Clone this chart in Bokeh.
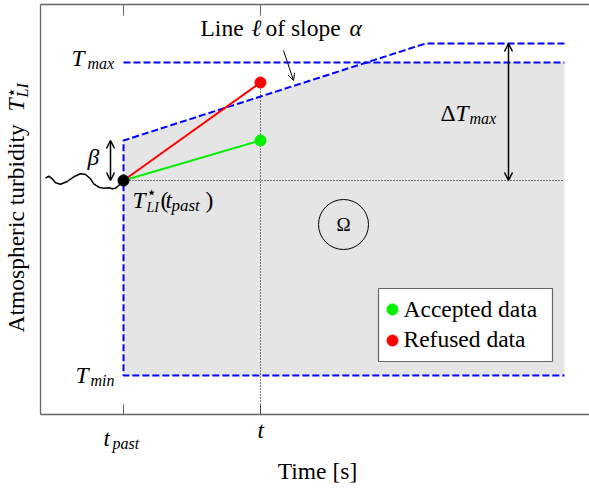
import math
from bokeh.plotting import figure
from bokeh.models import Range1d, Label, Arrow, OpenHead
from bokeh.embed import file_html
from bokeh.resources import INLINE

# ---------------- diagram values (arbitrary units) ----------------
tick_pos = [83, 220]            # t_past, t
t_past = 83
t_now = 220
T_past = 234                    # T*_LI(t_past)
T_accepted = 274
T_refused = 332
beta = 40
alpha = 0.321                   # slope of line l
dT_max = 137
T_max = 352
T_min = 39
t_right = 524
t_axis_end = 549
T_axis_top = 410

wave_x = [5, 8.3, 11.7, 15, 20, 26.7, 33.3, 40, 45, 50, 53.3, 58.3, 63.3, 68.3, 71.7, 75, 78.3, 81.7, 83]
wave_y = [236.3, 238.3, 235.7, 231.7, 230.3, 233, 237.7, 240.7, 240, 235.7, 230.7, 227.3, 226.3, 226.7, 225.7, 226.3, 229, 233, 234]

# derived geometry
T_start = T_past + beta
T_plateau = T_past + dT_max
x_cross = t_past + (T_max - T_start) / alpha
x_sat = t_past + (T_plateau - T_start) / alpha

FONT = "Liberation Serif"
FS = 23.5
SUB = 16
GRAY_AX = "#666666"
GREEN = "#00f000"
RED = "#ff0000"
BLUE = "#0000ff"

p = figure(width=589, height=489, x_range=Range1d(-40, 549), y_range=Range1d(-75, 414),
           min_border=0, x_axis_type=None, y_axis_type=None,
           output_backend="svg", toolbar_location=None)
p.outline_line_color = None
p.xgrid.visible = False
p.ygrid.visible = False
p.background_fill_color = "white"
p.border_fill_color = "white"

# admissible region
p.patch(x=[t_past, x_cross, t_right, t_right, t_past],
        y=[T_start, T_max, T_max, T_min, T_min],
        fill_color="#e5e5e5", line_color=None)

# axes frame (left, bottom, top) and inward ticks
p.segment(x0=[0, 0, 0], y0=[0, 0, T_axis_top], x1=[0, t_axis_end, t_axis_end], y1=[T_axis_top, 0, T_axis_top],
          line_color=GRAY_AX, line_width=1.3)
p.segment(x0=tick_pos, y0=[0, 0], x1=tick_pos, y1=[10, 10], line_color=GRAY_AX, line_width=1)
p.segment(x0=tick_pos, y0=[T_axis_top] * 2, x1=tick_pos, y1=[T_axis_top - 11] * 2, line_color=GRAY_AX, line_width=1)

# dotted guides
p.line(x=[t_past, t_right], y=[T_past, T_past], line_color="black", line_dash="1 2", line_width=1)
p.line(x=[t_now, t_now], y=[T_refused, 0], line_color="black", line_dash="1 2", line_width=1)

# blue dashed bounds
p.line(x=[t_past, t_right], y=[T_max, T_max], line_color=BLUE, line_dash="7 3", line_width=2)
p.line(x=[t_right, x_sat, t_past, t_past, t_right],
       y=[T_plateau, T_plateau, T_start, T_min, T_min],
       line_color=BLUE, line_dash="7 3", line_width=2)

# past history
p.line(x=wave_x, y=wave_y, line_color="black", line_width=1.5, line_join="round")

# candidate data
p.line(x=[t_past, t_now], y=[T_past, T_refused], line_color=RED, line_width=2)
p.line(x=[t_past, t_now], y=[T_past, T_accepted], line_color=GREEN, line_width=2)
p.scatter(x=[t_now], y=[T_refused], size=11, color=RED)
p.scatter(x=[t_now], y=[T_accepted], size=11, color=GREEN)
p.scatter(x=[t_past], y=[T_past], size=11, color="black")

# Omega circle
p.circle(x=[303], y=[190], radius=25, fill_color=None, line_color="black", line_width=1)

# arrows
def dbl_arrow(x0, y0, x1, y1):
    p.add_layout(Arrow(start=OpenHead(size=8, line_width=1.5), end=OpenHead(size=8, line_width=1.5),
                       x_start=x0, y_start=y0, x_end=x1, y_end=y1, line_width=1.5))

dbl_arrow(70, T_start, 70, T_past)
dbl_arrow(468, T_plateau, 468, T_past)
p.add_layout(Arrow(end=OpenHead(size=7, line_width=1), x_start=243, y_start=364, x_end=253, y_end=334,
                   line_width=1))

# legend box
p.quad(left=[338], right=[512], bottom=[53], top=[126], fill_color="white", line_color=GRAY_AX, line_width=1.2)
p.scatter(x=[352], y=[105], size=11, color=GREEN)
p.scatter(x=[352], y=[74], size=11, color=RED)


def lab(x, y, text, size=FS, style="normal", align="left", rot=False, font=FONT, mid=False):
    # (x, y) is the baseline start; converted to the middle of the line box
    if not mid:
        if rot:
            x = x - 0.33 * size
        else:
            y = y + 0.33 * size
    p.add_layout(Label(x=x, y=y, text=text, text_font=font, text_font_size=f"{size}px",
                       text_font_style=style, text_align=align, text_baseline="middle",
                       angle=(math.pi / 2 if rot else 0.0), text_color="black"))

lab(363, 98, "Accepted data")
lab(363, 68, "Refused data")

# line label
lab(160, 379, "Line ")
lab(211, 379, "ℓ", style="italic")
lab(225, 379, "of slope")
lab(309, 379, "α", style="italic")

# bounds labels
lab(31, 349, "T", style="italic")
lab(47, 346, "max", size=SUB, style="italic")
lab(35, 32, "T", style="italic")
lab(50, 29, "min", size=SUB, style="italic")

# beta
lab(47, 250, "β", style="italic")

# T*_LI(t_past)
lab(92, 207, "T", style="italic")
lab(111, 222.5, "⋆", size=17, align="center", font="DejaVu Sans", mid=True)
lab(106, 202, "LI", size=14, style="italic")
lab(120, 207, "(")
lab(125, 207, "t", style="italic")
lab(131, 203, "past", size=17, style="italic")
lab(165, 207, ")")

# Delta T_max
lab(400, 294, "Δ")
lab(415, 294, "T", style="italic")
lab(429, 291, "max", size=SUB, style="italic")

# Omega
lab(303, 190, "Ω", size=19, align="center", mid=True)

# tick labels
lab(63, -31, "t", style="italic")
lab(72, -34, "past", size=SUB, style="italic")
lab(217, -23, "t", style="italic")

# axis titles
lab(277, -64, "Time [s]", align="center")
lab(-17, 82, "Atmospheric turbidity", rot=True)
lab(-17, 303, "T", style="italic", rot=True)
lab(-13, 317, "LI", size=SUB, style="italic", rot=True)
lab(-30, 322, "⋆", size=17, align="center", font="DejaVu Sans", rot=True, mid=True)

open("out.html", "w").write(file_html(p, INLINE))
